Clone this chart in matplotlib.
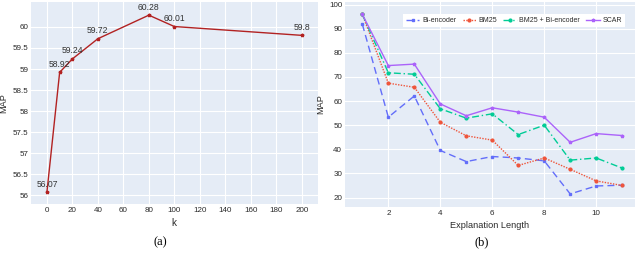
import matplotlib
matplotlib.use("Agg")
import matplotlib.pyplot as plt
from matplotlib.ticker import FuncFormatter

plt.rcParams['font.family'] = ['Liberation Sans', 'DejaVu Sans']

# ---- data (a) ----
k_vals = [0, 10, 20, 40, 80, 100, 200]
map_k = [56.07, 58.92, 59.24, 59.72, 60.28, 60.01, 59.8]
k_labels = ["56.07", "58.92", "59.24", "59.72", "60.28", "60.01", "59.8"]

# ---- data (b) ----
exp_len = [1, 2, 3, 4, 5, 6, 7, 8, 9, 10, 11]
bi_encoder = [91.8, 53.3, 62.1, 39.5, 34.9, 37.0, 36.4, 35.2, 21.5, 24.8, 25.1]
bm25 = [95.9, 67.4, 65.7, 51.2, 45.6, 43.8, 33.3, 36.4, 31.7, 26.9, 25.0]
bm25_bi = [95.9, 71.7, 71.1, 56.8, 52.9, 54.7, 46.1, 50.0, 35.5, 36.4, 32.2]
scar = [95.9, 74.7, 75.3, 58.8, 53.9, 57.2, 55.4, 53.3, 42.9, 46.5, 45.7]

BG = "#E5ECF6"
TICK_FS = 5.8
LAB_FS = 6.6
TXT = "#2a2a2a"

fig = plt.figure(figsize=(6.4, 2.66), dpi=100)


def style_axes(ax):
    ax.set_facecolor(BG)
    for s in ax.spines.values():
        s.set_visible(False)
    ax.grid(True, color="white", linewidth=0.8)
    ax.set_axisbelow(True)
    ax.tick_params(length=0, labelsize=TICK_FS, colors=TXT, pad=2)


# ===== (a) =====
ax1 = fig.add_axes([0.0484, 0.233, 0.448, 0.759])
style_axes(ax1)
ax1.plot(k_vals, map_k, color="#B22222", linewidth=1.0, marker="*", markersize=2.5)
for x, y, t in zip(k_vals, map_k, k_labels):
    ax1.annotate(t, (x, y), xytext=(0, 2.5), textcoords="offset points",
                 ha="center", va="bottom", fontsize=6.2, color="#333333")
ax1.set_xlim(-12.5, 212.5)
ax1.set_ylim(55.79, 60.59)
ax1.set_xticks(range(0, 201, 20))
ax1.set_yticks([56, 56.5, 57, 57.5, 58, 58.5, 59, 59.5, 60])
ax1.yaxis.set_major_formatter(FuncFormatter(lambda v, p: f"{v:g}"))
ax1.set_xlabel("k", fontsize=LAB_FS + 0.6, color=TXT, labelpad=3)
ax1.set_ylabel("MAP", fontsize=LAB_FS, color=TXT, labelpad=3)

# ===== (b) =====
ax2 = fig.add_axes([0.539, 0.222, 0.453, 0.771])
style_axes(ax2)
ax2.plot(exp_len, bi_encoder, color="#636EFA", linestyle=(0, (5, 3)), linewidth=1.0,
         marker="s", markersize=2.0, label="Bi-encoder")
ax2.plot(exp_len, bm25, color="#EF553B", linestyle=(0, (1, 1)), linewidth=1.0,
         marker="o", markersize=2.0, label="BM25")
ax2.plot(exp_len, bm25_bi, color="#00CC96", linestyle=(0, (5, 2, 1, 2)), linewidth=1.0,
         marker="o", markersize=2.0, label="BM25 + Bi-encoder")
ax2.plot(exp_len, scar, color="#AB63FA", linestyle="-", linewidth=1.0,
         marker="*", markersize=2.5, label="SCAR")
ax2.set_xlim(0.33, 11.49)
ax2.set_ylim(16.1, 101.1)
ax2.set_xticks([2, 4, 6, 8, 10])
ax2.set_yticks(range(20, 101, 10))
ax2.set_xlabel("Explanation Length", fontsize=LAB_FS, color=TXT, labelpad=3)
ax2.set_ylabel("MAP", fontsize=LAB_FS, color=TXT, labelpad=3)
leg = ax2.legend(loc="upper right", bbox_to_anchor=(0.966, 0.94), ncol=4, fontsize=5.0,
                 frameon=True, fancybox=False, framealpha=1, edgecolor="white",
                 handlelength=1.9, columnspacing=0.9, handletextpad=0.4,
                 borderpad=0.45, borderaxespad=0)
leg.get_frame().set_linewidth(0)
for t in leg.get_texts():
    t.set_color(TXT)

# captions
fig.text(0.25, 0.09, "(a)", ha="center", va="center", fontsize=9, family="Liberation Serif")
fig.text(0.752, 0.09, "(b)", ha="center", va="center", fontsize=9, family="Liberation Serif")

fig.savefig("out.png", dpi=100)
